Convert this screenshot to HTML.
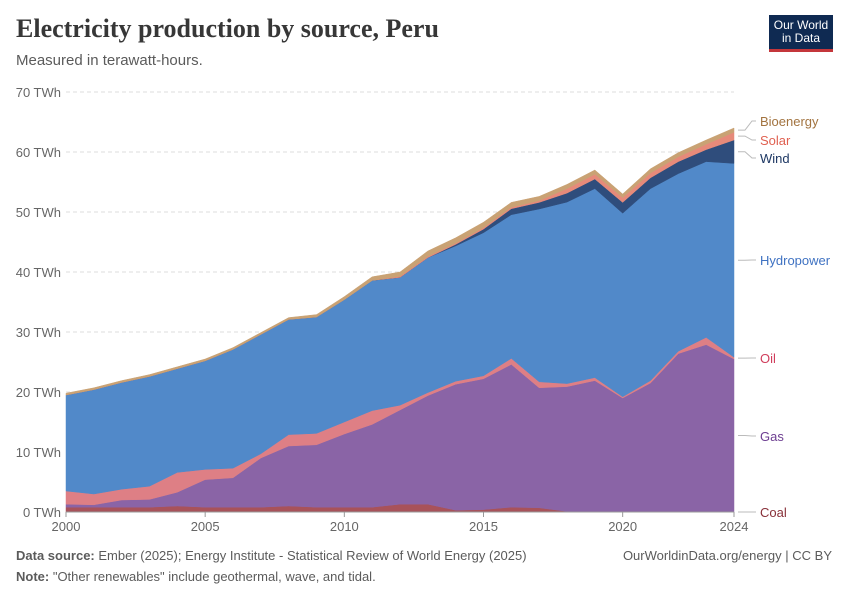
<!DOCTYPE html>
<html><head><meta charset="utf-8">
<style>
body{margin:0;background:#fff;font-family:"Liberation Sans",sans-serif;}
#wrap{position:relative;width:850px;height:600px;overflow:hidden;}
.t{position:absolute;white-space:nowrap;}
</style></head>
<body>
<div id="wrap">
<div class="t" style="left:16px;top:14px;font-family:'Liberation Serif',serif;font-size:26px;font-weight:bold;color:#373737;">Electricity production by source, Peru</div>
<div class="t" style="left:16px;top:52px;font-size:15px;color:#5b5b5b;">Measured in terawatt-hours.</div>
<div style="position:absolute;left:769px;top:15px;width:64px;height:37px;background:#0f2a52;border-bottom:3px solid #c4363b;color:#fff;font-size:12px;line-height:13px;text-align:center;padding-top:4px;box-sizing:border-box;">Our World<br>in Data</div>
<svg id="svg" width="850" height="600" style="position:absolute;left:0;top:0;"></svg>
<div class="t" style="left:16px;top:548px;font-size:13px;color:#5b5b5b;"><b>Data source:</b> Ember (2025); Energy Institute - Statistical Review of World Energy (2025)</div>
<div class="t" style="right:18px;top:548px;font-size:13px;color:#5b5b5b;">OurWorldinData.org/energy | CC BY</div>
<div class="t" style="left:16px;top:569px;font-size:13px;color:#5b5b5b;"><b>Note:</b> "Other renewables" include geothermal, wave, and tidal.</div>
</div>
<script>
const years=[2000,2001,2002,2003,2004,2005,2006,2007,2008,2009,2010,2011,2012,2013,2014,2015,2016,2017,2018,2019,2020,2021,2022,2023,2024];
const coal=[0.8,0.8,0.8,0.8,1.0,0.8,0.8,0.8,1.0,0.8,0.8,0.8,1.3,1.3,0.3,0.4,0.8,0.7,0.1,0,0,0,0,0,0];
const gas=[0.5,0.4,1.2,1.3,2.3,4.6,4.9,8.2,10.0,10.4,12.2,13.8,15.7,18.1,21.0,21.8,23.8,20.0,20.8,21.9,19.0,21.5,26.4,27.9,25.5];
const oil=[2.2,1.8,1.8,2.2,3.3,1.7,1.6,0.7,1.9,1.9,2.0,2.3,0.8,0.5,0.5,0.5,1.0,1.0,0.5,0.5,0.2,0.4,0.4,1.2,0.3];
const hydro=[16.0,17.4,17.8,18.3,17.3,18.1,19.8,19.9,19.2,19.4,20.4,21.7,21.3,22.5,22.55,23.85,23.95,28.8,30.25,31.5,30.6,32.0,29.6,29.3,32.3];
const wind=[0,0,0,0,0,0,0,0,0,0,0,0,0,0,0.25,0.6,1.0,1.1,1.5,1.6,1.8,1.8,2.0,2.0,3.9];
const solar=[0,0,0,0,0,0,0,0,0,0,0,0,0.2,0.2,0.2,0.25,0.25,0.3,0.75,0.8,0.8,0.8,0.8,0.9,1.3];
const bio=[0.3,0.3,0.3,0.3,0.3,0.3,0.3,0.3,0.3,0.4,0.5,0.6,0.7,0.9,0.9,0.9,0.8,0.7,0.7,0.7,0.6,0.7,0.7,0.7,0.7];
const yTicks=[0,10,20,30,40,50,60,70];
const xTicks=[2000,2005,2010,2015,2020,2024];
const seriesNames=["Coal","Gas","Oil","Hydropower","Wind","Solar","Bioenergy"];
const series=[coal,gas,oil,hydro,wind,solar,bio];
const fills=["#a8525a","#8a64a6","#de7f85","#5189c9","#2f4d7c","#e68a7a","#c9a274"];
const labelColors=["#883039","#6d3e91","#d03d5b","#3f72c2","#1d3763","#e06050","#a2733f"];
const labelY=[512,436,358,260,158,140,121];
const NS="http://www.w3.org/2000/svg";
const svg=document.getElementById('svg');
const x0=66,x1=734,yb=512,yt=92;
const xs=y=>x0+(y-years[0])/(years[years.length-1]-years[0])*(x1-x0);
const ys=v=>yb-(v/70)*(yb-yt);
function mk(t,a){const e=document.createElementNS(NS,t);for(const k in a)e.setAttribute(k,a[k]);svg.appendChild(e);return e;}
yTicks.forEach(v=>{
 const l=mk('line',{x1:66,x2:734,y1:ys(v),y2:ys(v),stroke:'#ddd','stroke-dasharray':v===0?'':'4,3'});
 
 
 const t=mk('text',{x:61,y:ys(v)+5,'text-anchor':'end','font-size':13,fill:'#666','font-family':'Liberation Sans'});
 t.textContent=v+' TWh';
 
 
});
let base=years.map(()=>0);
series.forEach((s,i)=>{
 const top=base.map((b,j)=>b+s[j]);
 let d='M'+years.map((y,j)=>xs(y)+','+ys(top[j])).join('L');
 for(let j=years.length-1;j>=0;j--)d+='L'+xs(years[j])+','+ys(base[j]);
 const p=mk('path',{d:d+'Z',fill:fills[i],stroke:fills[i],'stroke-width':0.5});
 
 
 const mid=ys(base[years.length-1]+s[years.length-1]/2);
 const ln=mk('path',{d:`M738,${mid}L745,${mid}L752,${labelY[i]}L756,${labelY[i]}`,fill:'none',stroke:'#bbb'});
 
 
 const t=mk('text',{x:760,y:labelY[i]+5,'font-size':13,fill:labelColors[i],'font-family':'Liberation Sans'});
 t.textContent=seriesNames[i];
 
 
 base=top;
});
const ax=mk('line',{x1:66,x2:734,y1:512,y2:512,stroke:'#999'});


xTicks.forEach(y=>{
 const tk=mk('line',{x1:xs(y),x2:xs(y),y1:512,y2:517,stroke:'#999'});
 
 
 const t=mk('text',{x:xs(y),y:531,'text-anchor':'middle','font-size':13,fill:'#666','font-family':'Liberation Sans'});
 t.textContent=y;
 
 
});
</script>
</body></html>
